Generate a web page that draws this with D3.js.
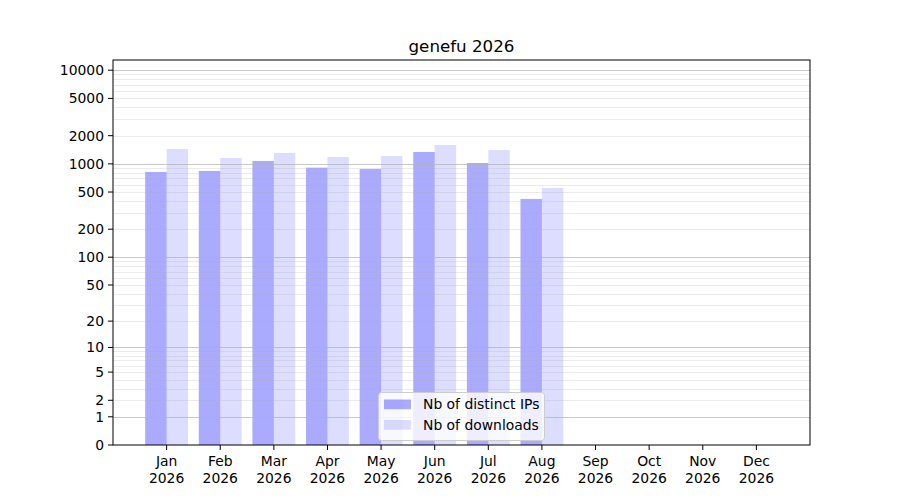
<!DOCTYPE html>
<html><head><meta charset="utf-8">
<script src="https://cdn.jsdelivr.net/npm/d3@7"></script>
<style>body{margin:0;background:#fff}svg{display:block}text{font-family:"DejaVu Sans",sans-serif;fill:#000}</style>
</head><body>
<svg id="c" width="900" height="500"></svg>
<script>
const months = ["Jan","Feb","Mar","Apr","May","Jun","Jul","Aug","Sep","Oct","Nov","Dec"];
const year = "2026";
const distinctIPs = [818, 840, 1074, 911, 882, 1340, 1022, 422];
const downloads = [1442, 1156, 1307, 1185, 1214, 1591, 1407, 553];
const yTickValues = [0, 1, 2, 5, 10, 20, 50, 100, 200, 500, 1000, 2000, 5000, 10000];
const majorGrid = [1, 10, 100, 1000, 10000];
const yMax = 12850;
const seriesNames = ["Nb of distinct IPs", "Nb of downloads"];

const svg = d3.select("#c");
const L = 113, R = 810, T = 60, B = 445;
const x = d3.scaleLinear().domain([-1, 12]).range([L, R]);
const lg = d3.scaleLinear().domain([0, Math.log10(yMax + 1)]).range([B, T]);
const y = v => lg(Math.log10(v + 1));

// minor grid
const minor = [];
for (let d = 1; d <= 10000; d *= 10) for (let k = 2; k <= 9; k++) if (d * k <= yMax) minor.push(d * k);
const g = svg.append("g");
// bars
const bw = 0.4;
svg.append("g").selectAll("rect.ip").data(distinctIPs).join("rect")
  .attr("x", (d, i) => x(i - bw)).attr("width", (d, i) => x(i) - x(i - bw))
  .attr("y", d => y(d)).attr("height", d => B - y(d))
  .attr("fill", "blue").attr("fill-opacity", 0.333);
svg.append("g").selectAll("rect.dl").data(downloads).join("rect")
  .attr("x", (d, i) => x(i)).attr("width", (d, i) => x(i + bw) - x(i))
  .attr("y", d => y(d)).attr("height", d => B - y(d))
  .attr("fill", "blue").attr("fill-opacity", 0.133);

const grid = svg.append("g");
grid.selectAll("line.mi").data(minor).join("line")
  .attr("x1", L).attr("x2", R).attr("y1", d => Math.round(y(d)) + 0.5).attr("y2", d => Math.round(y(d)) + 0.5)
  .attr("stroke", "#b0b0b0").attr("stroke-opacity", 0.25).attr("stroke-width", 1);
grid.selectAll("line.ma").data(majorGrid).join("line")
  .attr("x1", L).attr("x2", R).attr("y1", d => Math.round(y(d)) + 0.5).attr("y2", d => Math.round(y(d)) + 0.5)
  .attr("stroke", "#b0b0b0").attr("stroke-opacity", 0.7).attr("stroke-width", 1);

// y axis
const yAxis = d3.axisLeft(d3.scaleLinear().domain([0, 1]).range([0, 1]))
const ya = svg.append("g");
ya.selectAll("line").data(yTickValues).join("line")
  .attr("x1", L - 5).attr("x2", L).attr("y1", d => y(d)).attr("y2", d => y(d))
  .attr("stroke", "#000").attr("stroke-width", 1);
ya.selectAll("text").data(yTickValues).join("text")
  .attr("x", L - 9).attr("y", d => y(d)).attr("dy", "0.35em")
  .attr("text-anchor", "end").style("font-size", "13.9px").text(d => d);

// x axis
const xa = svg.append("g");
months.forEach((m, i) => {
  xa.append("line").attr("x1", x(i)).attr("x2", x(i)).attr("y1", B).attr("y2", B + 5).attr("stroke", "#000");
  const t = xa.append("text").attr("x", x(i)).attr("text-anchor", "middle").style("font-size", "13.9px");
  t.append("tspan").attr("x", x(i)).attr("y", B + 21).text(m);
  t.append("tspan").attr("x", x(i)).attr("y", B + 37.5).text(year);
});

// frame
svg.append("rect").attr("x", L).attr("y", T).attr("width", R - L).attr("height", B - T)
  .attr("fill", "none").attr("stroke", "#000").attr("stroke-width", 1);

// title
svg.append("text").attr("x", (L + R) / 2).attr("y", 52).attr("text-anchor", "middle")
  .style("font-size", "16.7px").text("genefu " + year);

// legend
const lgG = svg.append("g");
lgG.append("rect").attr("x", 378.5).attr("y", 392.5).attr("width", 166).attr("height", 48).attr("rx", 3)
  .attr("fill", "#fff").attr("fill-opacity", 0.8).attr("stroke", "#cccccc");
const legOps = [0.333, 0.133];
seriesNames.forEach((n, k) => {
  lgG.append("rect").attr("x", 384).attr("y", 399.5 + k * 20.5).attr("width", 27).attr("height", 9.7)
    .attr("fill", "blue").attr("fill-opacity", legOps[k]);
  lgG.append("text").attr("x", 423).attr("y", 404.5 + k * 20.5).attr("dy", "0.35em")
    .style("font-size", "13.9px").text(n);
});
</script>
</body></html>
